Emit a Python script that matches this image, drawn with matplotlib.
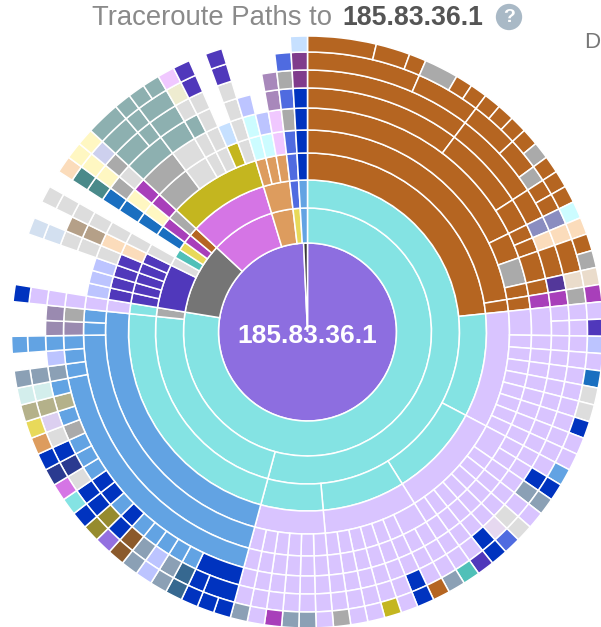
import numpy as np
import matplotlib
matplotlib.use('Agg')
import matplotlib.pyplot as plt

plt.rcParams['font.family'] = ['Liberation Sans', 'DejaVu Sans']

TOTAL_PATHS = 107
ROOT_LABEL = '185.83.36.1'
TITLE_PREFIX = 'Traceroute Paths to'

# Number of traceroute paths per hop segment, clockwise from north; None = no further hop.
root = [(106.25, 'root'), (0.75, 'slate_dark')]
hop1 = [(83, 'cyan'), (10, 'g7'), (9, 'orchid'), (3, 'tan'), (1, 'yellow'), (1, 'sky')]
hop2 = [(58, 'cyan'), (24, 'cyan'), (1, 'gray'), (5, 'dp'), (1, 'ltg'), (1, 'teal'), (1, 'yellow'),
        (1, 'mag'), (1, 'brown'), (9, 'orchid'), (3, 'tan'), (1, 'royal'), (1, 'sky')]
hop3 = [(25, 'brown'), (10, 'cyan'), (9, 'cyan'), (8, 'cyan'), (6, 'cyan'), (24, 'cyan'), (1, 'cyan'),
        (1, 'dp'), (1, 'dp'), (1, 'dp'), (1, 'dp'), (1, 'dp'), (1, 'ltg'), (1, None), (1, 'blue'),
        (1, 'mag'), (1, 'gray'), (9, 'olive'), (1, 'tan'), (1, 'tan'), (1, 'tan'), (1, 'royal'), (1, 'dark')]
hop4 = [(24, 'brown'), (1, 'brown'), (10, 'lp'), (9, 'lp'), (8, 'lp'), (6, 'lp'), (24, 'sky'), (1, 'lp'),
        (1, 'dp'), (1, 'dp'), (1, 'dp'), (1, 'dp'), (1, 'peach'), (1, 'ltg'), (1, None), (1, 'blue'),
        (1, 'ly'), (1, 'mag'), (3, 'gray'), (2, 'ltg'), (1, 'ltg'), (1, 'ltg'), (1, 'olive'), (1, 'ltg'),
        (1, 'pcyan'), (1, 'pcyan'), (1, 'ppink'), (1, 'royal'), (1, 'dark')]
hop5 = [(19, 'brown'), (2, 'brown'), (2, 'gray'), (1, 'brown'), (1, 'brown'),
        (2, 'lp')] + [(1, 'lp')] * 8 + [(2, 'lp')] + [(1, 'lp')] * 7 + [(2, 'lp')] + [(1, 'lp')] * 12 + [
        (22, 'sky'), (1, 'sky'), (1, 'sky'), (1, 'lp'), (1, 'peri'), (1, 'peri'), (1, 'peri'), (1, 'ltg'),
        (1, 'peach'), (1, 'ltg'), (1, None), (1, 'blue'), (1, 'ly'), (1, 'mag'), (3, 'gray'), (2, 'ltg'),
        (1, 'ltg'), (1, 'ltg'), (1, 'pblue'), (1, 'ltg'), (1, 'pcyan'), (1, 'peri'), (1, 'ppink'),
        (1, 'gray'), (1, 'dark')]
hop6 = [(11, 'brown'), (6, 'brown'), (2, 'brown'), (1, 'brown'), (1, 'brown'), (2, 'brown'), (1, 'brown'),
        (1, 'mag'), (2, 'lp')] + [(1, 'lp')] * 31 + [
        (19, 'sky'), (1, 'sky'), (1, 'sky'), (1, 'sky'), (1, 'mauve2'), (1, 'gray'), (1, 'lp'),
        (3, None), (1, 'ltg'), (1, 'tan2'), (1, 'ltg'), (1, None), (1, 'blue'), (1, 'gray'), (1, 'ltg'),
        (3, 'tealg'), (2, 'tealg'), (1, 'tealg'), (1, 'ltg'), (1, None), (1, 'ltg'), (1, 'peri'), (1, None),
        (1, 'mauve'), (1, 'royal'), (1, 'dark')]
hop7 = [(11, 'brown'), (6, 'brown'), (2, 'brown'), (1, 'slate'), (1, 'peach'), (2, 'brown'), (1, 'indigo'),
        (1, 'mag')] + [(1, 'lp')] * 33 + [
        (3, 'dark'), (1, 'sky'), (1, 'sky'), (1, 'sky'), (1, 'sky'), (1, 'sky'), (1, 'dark'), (1, 'sky'),
        (1, 'dark'), (1, 'dark'), (1, 'sky'), (1, 'sky'), (1, 'sky'), (1, 'gray'), (1, 'sky'), (1, 'khaki'),
        (1, 'sky'), (1, 'bg'), (1, 'peri'), (1, 'sky'), (1, 'mauve2'), (1, 'mauve2'), (1, 'lp'),
        (3, None), (1, 'ltg'), (1, 'tan2'), (1, 'ltg'), (1, None), (1, 'dteal'), (1, 'ly'), (1, 'gray'),
        (2, 'tealg'), (1, 'tealg'), (2, 'tealg'), (1, 'ltg'), (1, 'ltg'), (1, None), (1, 'ltg'),
        (2, None), (1, 'mauve'), (1, 'gray'), (1, 'dmag')]
hop8 = [(7, 'brown'), (4, 'brown'), (3, 'brown'), (2, 'brown'), (1, 'gray'), (1, 'brown'), (1, 'brown'),
        (1, 'slate'), (1, 'peach'), (2, 'brown'), (1, 'bisque'), (1, 'gray')] + [(1, 'lp')] * 11 + [
        (1, 'dark'), (1, 'bg'), (1, 'lp'), (1, 'ltg'), (1, 'lav'), (1, 'dark')] + [(1, 'lp')] * 4 + [
        (1, 'dark')] + [(1, 'lp')] * 11 + [
        (2, 'dark'), (1, 'dark'), (1, 'steel'), (1, 'bg'), (1, 'peri'), (1, 'bg'), (1, 'brown2'), (1, 'dark'),
        (1, 'olive2'), (1, 'dark'), (1, 'dark'), (1, 'ltg'), (1, 'navy'), (1, 'dark'), (1, 'ltg'), (1, 'lav2'),
        (1, 'khaki'), (1, 'pteal'), (1, 'bg'), (1, None), (1, 'sky'), (2, None), (1, 'lp'), (3, None),
        (1, 'pgb'), (1, None), (1, 'ltg'), (1, None), (1, 'dteal'), (1, 'ly'), (1, 'ppiwi'),
        (2, 'tealg'), (1, 'tealg'), (2, 'tealg'), (1, 'pkhaki'), (1, 'dp'), (1, None), (1, 'dp'),
        (3, None), (1, 'royal'), (1, 'dmag')]
hop9 = [(4, 'brown'), (2, 'brown'), (1, 'brown'), (2, 'gray')] + [(1, 'brown')] * 6 + [
        (1, 'gray'), (1, 'brown'), (1, 'brown'), (1, 'brown'), (1, 'pcyan'), (1, 'peach'), (1, 'brown'),
        (1, 'gray'), (1, 'bisque'), (1, 'mag'),
        (1, 'lp'), (1, 'dp'), (1, 'peri'), (1, 'lp'), (1, 'blue'), (1, 'ltg'), (1, 'ltg'), (1, 'dark'),
        (1, 'lp'), (1, 'lp'), (1, 'sky'), (1, 'dark'), (1, 'bg'), (1, 'lp'), (1, 'ltg'), (1, 'royal'),
        (1, 'dark'), (1, 'dp'), (1, 'teal'), (1, 'bg'), (1, 'brown'), (1, 'dark'), (1, 'lp'), (1, 'olive'),
        (1, 'lp'), (1, 'lp'), (1, 'gray'), (1, 'lp'), (1, 'bg'), (1, 'bg'), (1, 'mag'), (1, 'lp'), (1, 'bg'),
        (1, 'dark'), (1, 'dark'), (1, 'dark'), (1, 'steel'), (1, 'bg'), (1, 'peri'), (1, 'bg'), (1, 'brown2'),
        (1, 'violet'), (1, 'olive2'), (1, 'dark'), (1, 'cyan'), (1, 'orchid'), (1, 'navy'), (1, 'dark'),
        (1, 'tan'), (1, 'yellow'), (1, 'khaki'), (1, 'pteal'), (1, 'bg'), (1, None), (1, 'sky'), (2, None),
        (1, 'dark'), (3, None), (1, 'pgb'), (1, None), (1, 'ltg'), (1, None), (1, 'peach'), (1, 'ly'), (1, 'ly'),
        (2, 'tealg'), (1, 'tealg'), (1, 'tealg'), (1, 'tealg'), (1, 'ppink'), (1, 'dp'), (1, None), (1, 'dp'),
        (4, None), (1, 'pblue')]
hops = [root, hop1, hop2, hop3, hop4, hop5, hop6, hop7, hop8, hop9]

palette = {
    'root': '#8d6ee0', 'slate_dark': '#3a3a3a', 'cyan': '#84e3e3', 'g7': '#757575', 'orchid': '#d575e5',
    'tan': '#dd9c5e', 'yellow': '#e8d95a', 'sky': '#62a3e3', 'gray': '#aaaaaa', 'dp': '#5038bb',
    'ltg': '#dddddd', 'teal': '#50c0b8', 'mag': '#a83fba', 'brown': '#b56521', 'royal': '#4f6be0',
    'blue': '#1a6fc0', 'olive': '#c4b61f', 'dark': '#0033bf', 'lp': '#d9c4ff', 'peach': '#fbdcbb',
    'ly': '#fff7c2', 'pcyan': '#ccfcff', 'ppink': '#f0c8ff', 'peri': '#bcc4ff', 'pblue': '#c6e0ff',
    'mauve': '#a888bb', 'mauve2': '#9a8ab0', 'tan2': '#b5a088', 'tealg': '#8db0b0', 'slate': '#8a8dc0',
    'indigo': '#53379a', 'khaki': '#b4b18a', 'bg': '#8ba0b5', 'dteal': '#4a8a8a', 'dmag': '#803c8c',
    'bisque': '#eadccb', 'lav': '#e6d8f0', 'lav2': '#dccff0', 'steel': '#366890', 'brown2': '#8b5a2b',
    'olive2': '#968b2e', 'navy': '#2a3a90', 'pteal': '#d3eeec', 'pgb': '#d3e0f0', 'ppiwi': '#cdd0ee',
    'pkhaki': '#eeecd0', 'violet': '#9370e0',
}

W, H = 601, 627
CX, CY = 307.5, 332.0
R_MAX = 300.0
ring_edges = [0, 89, 124, 152, 179, 202, 224, 244, 262, 280, 296]

fig = plt.figure(figsize=(W / 100, H / 100), dpi=100, facecolor='white')
ax = fig.add_axes([(CX - R_MAX) / W, (H - CY - R_MAX) / H, 2 * R_MAX / W, 2 * R_MAX / H], projection='polar')
ax.set_theta_zero_location('N')
ax.set_theta_direction(-1)
ax.set_ylim(0, R_MAX)
ax.set_xticks([])
ax.set_yticks([])
ax.axis('off')

for level, ring in enumerate(hops):
    counts = np.array([c for c, _ in ring], dtype=float)
    keys = [k for _, k in ring]
    widths = counts / TOTAL_PATHS * 2 * np.pi
    starts = np.concatenate([[0], np.cumsum(widths)[:-1]])
    for s, w, k in zip(starts, widths, keys):
        if k is None:
            continue
        ax.bar(s + w / 2, ring_edges[level + 1] - ring_edges[level], width=w, bottom=ring_edges[level],
               color=palette[k], edgecolor='white', linewidth=1.1, zorder=2)

fig.text(307 / W, 1 - 336 / H, ROOT_LABEL, color='white', fontweight='bold', fontsize=19,
         ha='center', va='center', zorder=5)

fig.text(92 / W, 1 - 18 / H, TITLE_PREFIX, color='#8a8a8a', fontsize=19.8, ha='left', va='center')
fig.text(342 / W, 1 - 18 / H, ROOT_LABEL, color='#555555', fontweight='bold', fontsize=19.2, ha='left', va='center')
fig.text(509 / W, 1 - 17 / H, '?', color='white', fontweight='bold', fontsize=14, ha='center', va='center',
         bbox=dict(boxstyle='circle,pad=0.24', fc='#a9b9c6', ec='none'))
fig.text(584 / W, 1 - 42 / H, 'D', color='#777777', fontsize=16, ha='left', va='center')

fig.savefig('out.png', dpi=100, facecolor='white')
